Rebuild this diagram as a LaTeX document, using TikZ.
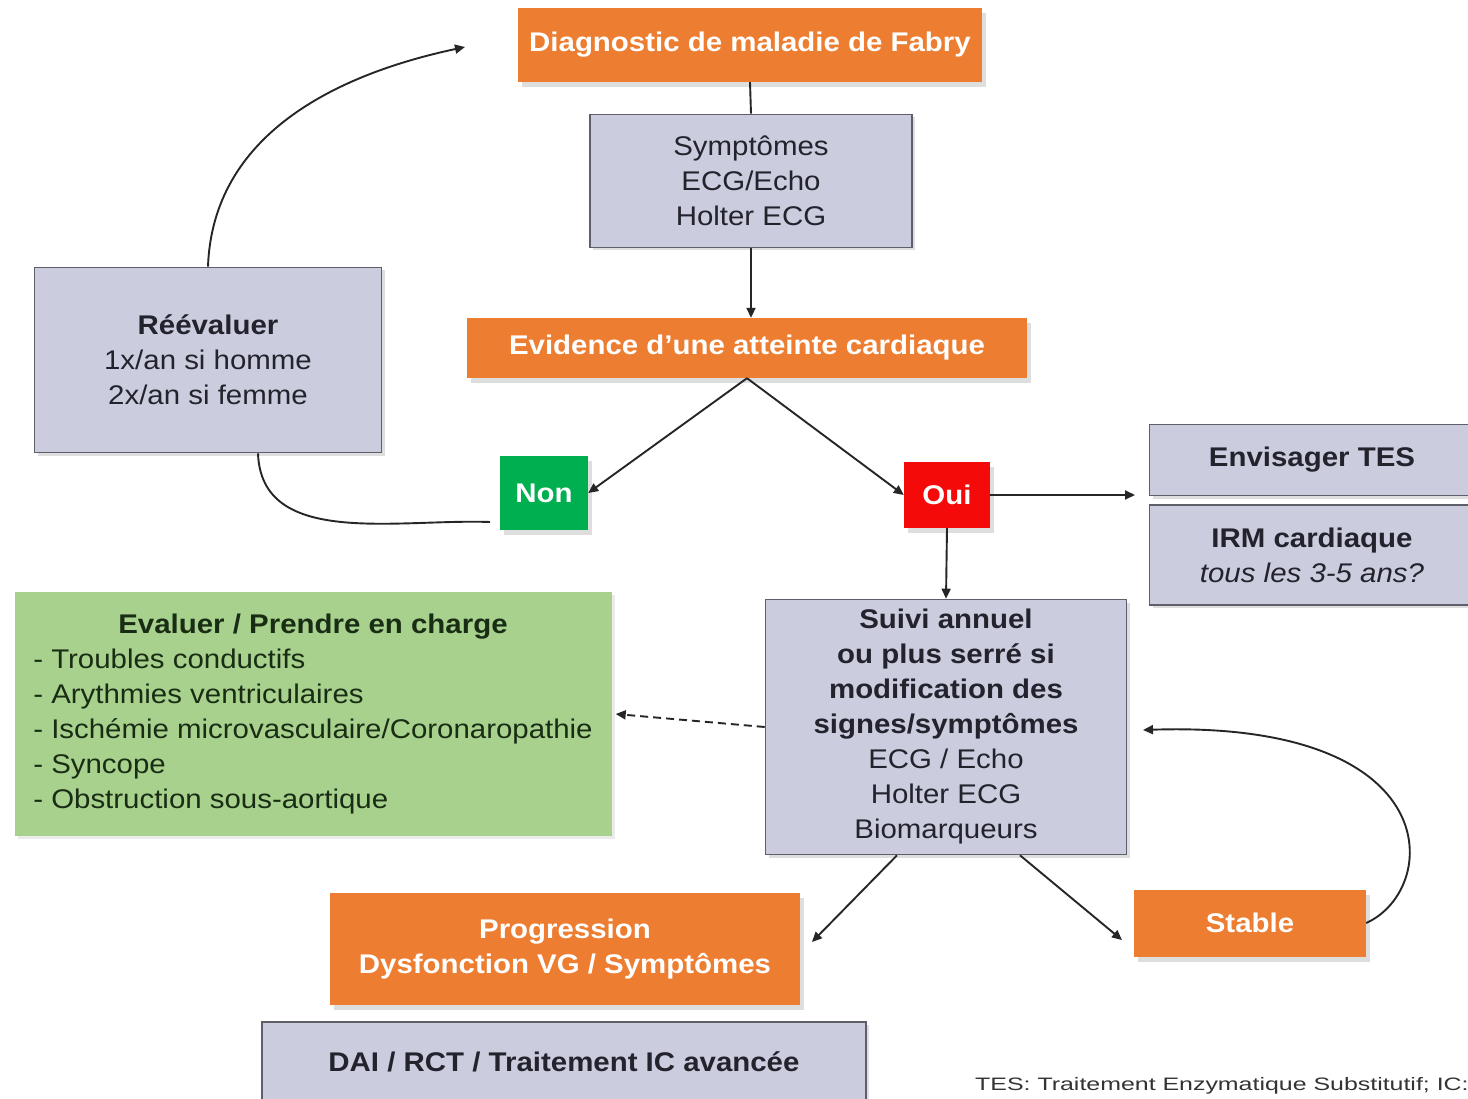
\documentclass[tikz,border=0pt]{standalone}
\usepackage{graphicx}
\usepackage{fontspec}
\setmainfont{Liberation Sans}[FakeStretch=1.09]
\usetikzlibrary{shadows,arrows.meta}
\definecolor{orng}{RGB}{237,125,49}
\definecolor{grayf}{RGB}{203,205,222}
\definecolor{bordc}{RGB}{95,95,105}
\definecolor{txtc}{RGB}{35,35,45}
\definecolor{nongreen}{RGB}{0,176,80}
\definecolor{ouired}{RGB}{245,10,10}
\definecolor{lgreen}{RGB}{169,209,142}
\definecolor{gtxt}{RGB}{25,45,20}
\begin{document}
\begin{tikzpicture}[x=1pt,y=-1pt,
  box/.style={draw=bordc, line width=1.6pt, fill=grayf, text=txtc, inner sep=0pt, align=center,
    font=\fontsize{27}{35}\selectfont,
    drop shadow={shadow xshift=3pt, shadow yshift=-3pt, fill=black!25}},
  obox/.style={fill=orng, text=white, inner sep=0pt, align=center,
    font=\bfseries\fontsize{27}{35}\selectfont,
    drop shadow={shadow xshift=4pt, shadow yshift=-5pt, fill=black!25}},
  gbox/.style={fill=lgreen, text=gtxt, inner sep=0pt,
    font=\fontsize{27}{35}\selectfont,
    drop shadow={shadow xshift=3pt, shadow yshift=-3pt, fill=black!15}},
  conn/.style={line width=1.9pt, draw=black!85},
  arr/.style={conn, -{Triangle[length=10pt,width=9pt]}},
  dsh/.style={dash pattern=on 8pt off 5pt}
]
\clip (0,0) rectangle (1468,1099);
\fill[white] (0,0) rectangle (1468,1099);

\node[obox, minimum width=464pt, minimum height=74pt] (diag) at (750,45) {Diagnostic de maladie de Fabry};
\node[box, minimum width=322pt, minimum height=133pt] (sympt) at (751,181) {Symptômes\\ECG/Echo\\Holter ECG};
\node[obox, minimum width=560pt, minimum height=60pt] (evid) at (747,348) {Evidence d'une atteinte cardiaque};
\node[box, minimum width=347pt, minimum height=185pt] (reeval) at (208,360) {\textbf{Réévaluer}\\1x/an si homme\\2x/an si femme};
\node[obox, fill=nongreen, minimum width=88pt, minimum height=74pt] (non) at (544,493) {Non};
\node[obox, fill=ouired, minimum width=86pt, minimum height=66pt] (oui) at (947,495) {Oui};
\node[box, minimum width=325pt, minimum height=71pt] (tes) at (1312,460) {\textbf{Envisager TES}};
\node[box, minimum width=325pt, minimum height=100pt] (irm) at (1312,555) {\textbf{IRM cardiaque}\\\textit{tous les 3-5 ans?}};
\node[gbox, minimum width=597pt, minimum height=244pt] (evaluer) at (313,714) {\begin{tabular}{@{}l@{}}\multicolumn{1}{@{}c@{}}{\textbf{Evaluer / Prendre en charge}}\\- Troubles conductifs\\- Arythmies ventriculaires\\- Ischémie microvasculaire/Coronaropathie\\- Syncope\\- Obstruction sous-aortique\end{tabular}};
\node[box, minimum width=361pt, minimum height=255pt] (suivi) at (946,727) {\textbf{Suivi annuel}\\\textbf{ou plus serré si}\\\textbf{modification des}\\\textbf{signes/symptômes}\\ECG / Echo\\Holter ECG\\Biomarqueurs};
\node[obox, minimum width=470pt, minimum height=112pt] (prog) at (565,949) {Progression\\Dysfonction VG / Symptômes};
\node[box, minimum width=604pt, minimum height=80pt] (dai) at (564,1062) {\textbf{DAI / RCT / Traitement IC avancée}};
\node[obox, minimum width=232pt, minimum height=67pt] (stable) at (1250,923) {Stable};
\node[anchor=west, inner sep=0pt, text=black!80, font=\fontsize{18}{20}\selectfont] (foot) at (975,1086) {\scalebox{1.27}[1]{TES: Traitement Enzymatique Substitutif; IC:}};

\coordinate (diagin) at (465,47);
\coordinate (nonin) at (490,522);
\coordinate (tesin) at (1135,495);
\coordinate (progin) at (812,942);
\coordinate (stabin) at (1122,940);
\coordinate (suiviin) at (1143,730);

\draw[conn] (diag.south) -- (sympt.north);
\draw[arr] (sympt.south) -- (sympt.south |- evid.north);
\draw[arr] (evid.south) -- (non.east);
\draw[arr] (evid.south) -- (oui.west);
\draw[conn] ([xshift=50pt]reeval.south) to[out=-88,in=178] (nonin);
\draw[arr] (reeval.north) to[out=88,in=192] (diagin);
\draw[arr] (oui.east) -- (tesin);
\draw[arr] (oui.south) -- (suivi.north);
\draw[arr, dsh] (suivi.west) -- ([xshift=4pt]evaluer.east);
\draw[arr] ([xshift=-49pt]suivi.south) -- (progin);
\draw[arr] ([xshift=74pt]suivi.south) -- (stabin);
\draw[arr] (stable.east) .. controls (1440,890) and (1450,720) .. (suiviin);
\end{tikzpicture}
\end{document}
